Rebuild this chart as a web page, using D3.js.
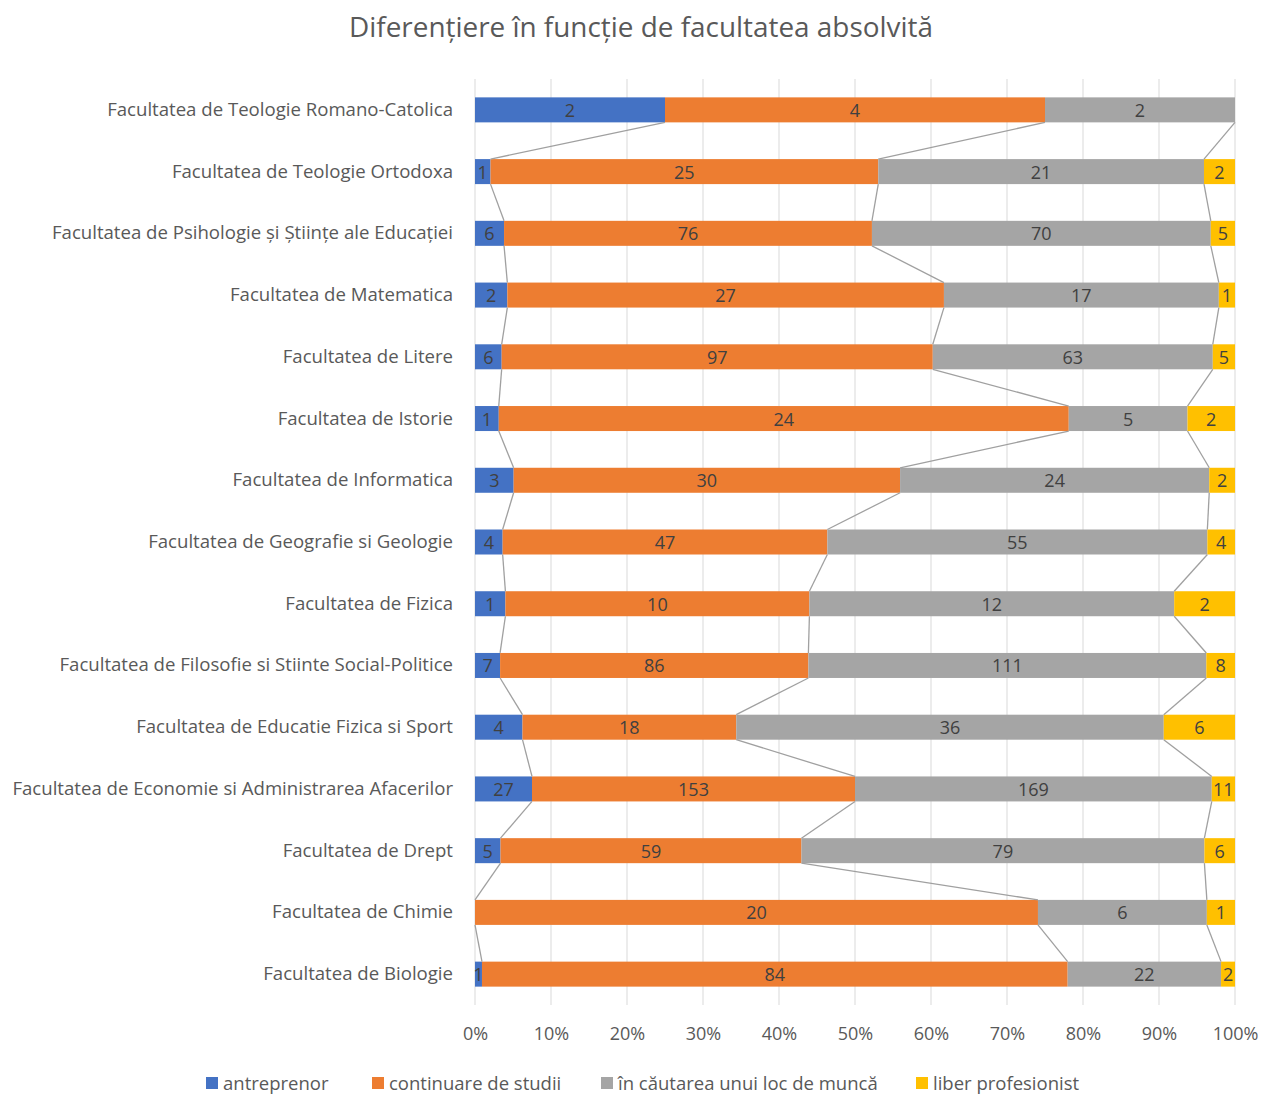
<!DOCTYPE html>
<html><head><meta charset="utf-8">
<script src="https://cdn.jsdelivr.net/npm/d3@7"></script>
<style>body{margin:0;background:#fff;} svg{display:block;}</style>
</head><body>
<svg id="c" width="1261" height="1095"></svg>
<script>
const categories = [
  "Facultatea de Teologie Romano-Catolica",
  "Facultatea de Teologie Ortodoxa",
  "Facultatea de Psihologie și Științe ale Educației",
  "Facultatea de Matematica",
  "Facultatea de Litere",
  "Facultatea de Istorie",
  "Facultatea de Informatica",
  "Facultatea de Geografie si Geologie",
  "Facultatea de Fizica",
  "Facultatea de Filosofie si Stiinte Social-Politice",
  "Facultatea de Educatie Fizica si Sport",
  "Facultatea de Economie si Administrarea Afacerilor",
  "Facultatea de Drept",
  "Facultatea de Chimie",
  "Facultatea de Biologie"
];
const seriesNames = ["antreprenor","continuare de studii","în căutarea unui loc de muncă","liber profesionist"];
const antreprenor = [2,1,6,2,6,1,3,4,1,7,4,27,5,0,1];
const continuare  = [4,25,76,27,97,24,30,47,10,86,18,153,59,20,84];
const cautare     = [2,21,70,17,63,5,24,55,12,111,36,169,79,6,22];
const liber       = [0,2,5,1,5,2,2,4,2,8,6,11,6,1,2];
const tickLabels = ["0%","10%","20%","30%","40%","50%","60%","70%","80%","90%","100%"];
const colors = ["#4472C4","#ED7D31","#A5A5A5","#FFC000"];
const title = "Diferențiere în funcție de facultatea absolvită";

(function(){
const seriesValues = [antreprenor, continuare, cautare, liber];
const rows = categories.map((c,i)=>{
  const o={cat:c}; seriesNames.forEach((s,k)=>o[s]=seriesValues[k][i]); return o;
});
const stacked = d3.stack().keys(seriesNames).offset(d3.stackOffsetExpand)(rows);

const svg = d3.select("#c");
const FONT = "'Open Sans', Lato, sans-serif";
const pL=475, pR=1235, pT=79, pB=1005;
const x = d3.scaleLinear().domain([0,1]).range([pL,pR]);
const y = d3.scaleBand().domain(categories).range([pT,pB]).paddingInner(0.595).paddingOuter(0.2975);

svg.append("text").attr("x",641).attr("y",37).attr("text-anchor","middle")
  .attr("font-family",FONT).attr("font-size",27.9).attr("fill","#595959").text(title);

svg.append("g").selectAll("line").data(d3.range(0,1.0001,0.1)).join("line")
  .attr("x1",d=>x(d)).attr("x2",d=>x(d)).attr("y1",pT).attr("y2",pB)
  .attr("stroke","#d9d9d9").attr("stroke-width",1);

const g = svg.append("g");
stacked.forEach((s,k)=>{
  g.append("g").selectAll("rect").data(s).join("rect")
    .attr("x",d=>x(d[0])).attr("width",d=>x(d[1])-x(d[0]))
    .attr("y",d=>y(d.data.cat)).attr("height",y.bandwidth())
    .attr("fill",colors[k]);
});

const sl = svg.append("g");
for(let k=0;k<3;k++){
  const s=stacked[k];
  for(let i=0;i<s.length-1;i++){
    sl.append("line")
      .attr("x1",x(s[i][1])).attr("y1",y(categories[i])+y.bandwidth())
      .attr("x2",x(s[i+1][1])).attr("y2",y(categories[i+1]))
      .attr("stroke","#a0a0a0").attr("stroke-width",1.3);
  }
}

stacked.forEach((s,k)=>{
  g.append("g").selectAll("text").data(s.filter(d=>d.data[seriesNames[k]]>0)).join("text")
    .attr("x",d=>(x(d[0])+x(d[1]))/2).attr("y",d=>y(d.data.cat)+y.bandwidth()/2+7)
    .attr("text-anchor","middle").attr("font-family",FONT).attr("font-size",18)
    .attr("fill","#404040").text(d=>d.data[seriesNames[k]]);
});

svg.append("g").selectAll("text").data(categories).join("text")
  .attr("x",453).attr("y",d=>y(d)+y.bandwidth()/2+6).attr("text-anchor","end")
  .attr("font-family",FONT).attr("font-size",18.6).attr("fill","#595959").text(d=>d);

const xa = d3.axisBottom(x).tickValues(d3.range(0,1.0001,0.1)).tickFormat((d,i)=>tickLabels[i]).tickSize(0).tickPadding(22);
const ax = svg.append("g").attr("transform",`translate(0,${pB})`).call(xa);
ax.select(".domain").remove();
ax.selectAll("text").attr("font-family",FONT).attr("font-size",18).attr("fill","#595959");

const legX=[206,372,601,916];
const lg = svg.append("g");
seriesNames.forEach((s,k)=>{
  lg.append("rect").attr("x",legX[k]).attr("y",1077).attr("width",12).attr("height",12).attr("fill",colors[k]);
  lg.append("text").attr("x",legX[k]+17).attr("y",1090).attr("font-family",FONT).attr("font-size",18.5)
    .attr("fill","#595959").text(s);
});
})();
</script>
</body></html>
